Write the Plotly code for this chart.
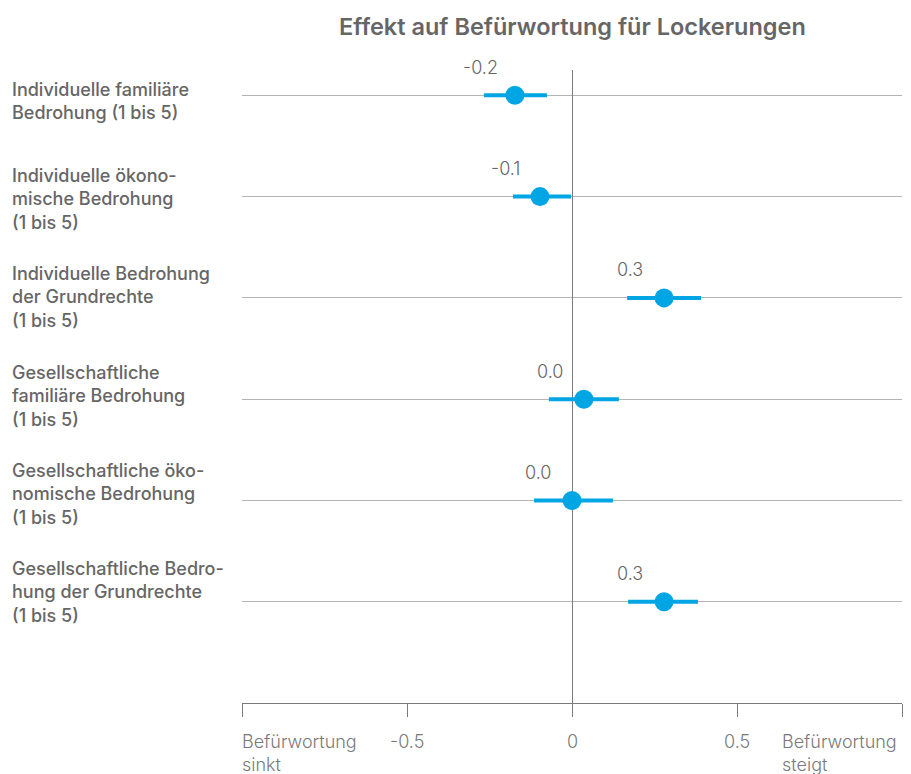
import plotly.graph_objects as go

# ---- data ----
labels = [
    "Individuelle familiäre<br>Bedrohung (1 bis 5)",
    "Individuelle ökono-<br>mische Bedrohung<br>(1 bis 5)",
    "Individuelle Bedrohung<br>der Grundrechte<br>(1 bis 5)",
    "Gesellschaftliche<br>familiäre Bedrohung<br>(1 bis 5)",
    "Gesellschaftliche öko-<br>nomische Bedrohung<br>(1 bis 5)",
    "Gesellschaftliche Bedro-<br>hung der Grundrechte<br>(1 bis 5)",
]
estimates = [-0.173, -0.097, 0.279, 0.036, 0.0, 0.279]
ci_low = [-0.267, -0.179, 0.167, -0.070, -0.115, 0.170]
ci_high = [-0.076, -0.003, 0.391, 0.142, 0.124, 0.382]
tick_vals = [-1, -0.5, 0, 0.5, 1]
tick_text = ["Befürwortung<br>sinkt", "-0.5", "0", "0.5", "Befürwortung<br>steigt"]
title = "Effekt auf Befürwortung für Lockerungen"

# ---- style ----
BLUE = "#00a5e3"
GREY_TXT = "#666666"
GREY_AX = "#7a7a7a"
GREY_GRID = "#b4b4b4"
FONT = "Inter"

W, H = 911, 774
ML, MR, MT, MB = 242, 9, 70, 71
Y_MIN, Y_MAX = -0.25, 6.0
plot_h = H - MT - MB
px_per_row = plot_h / (Y_MAX - Y_MIN)

rows = list(range(len(labels)))

fig = go.Figure()
fig.add_trace(go.Scatter(
    x=estimates, y=rows, mode="markers",
    marker=dict(color=BLUE, size=19, line=dict(width=0)),
    error_x=dict(type="data", symmetric=False,
                 array=[h - e for h, e in zip(ci_high, estimates)],
                 arrayminus=[e - l for e, l in zip(estimates, ci_low)],
                 color=BLUE, thickness=4, width=0),
    hoverinfo="skip", showlegend=False,
))

annotations = []
# value labels
for r, e in zip(rows, estimates):
    annotations.append(dict(
        x=e, y=r, xref="x", yref="y", text=f"{e:.1f}", showarrow=False,
        xanchor="center", yanchor="middle", xshift=-34, yshift=28,
        font=dict(family=FONT, size=18, color=GREY_TXT, weight=300),
    ))

# row labels
for r, lab in zip(rows, labels):
    center_px = 101 + 98.2 * r
    yc = (center_px - MT) / px_per_row + Y_MIN
    annotations.append(dict(
        x=(10 - ML) / (W - ML - MR), y=yc, xref="paper", yref="y",
        text=lab, showarrow=False, xanchor="left", yanchor="middle",
        align="left",
        font=dict(family=FONT, size=18, color=GREY_TXT, weight=500),
    ))

# axis tick labels
for v, t in zip(tick_vals, tick_text):
    if v == tick_vals[0]:
        xa, xs = "left", -2
    elif v == tick_vals[-1]:
        xa, xs = "right", -3
    else:
        xa, xs = "center", 0
    annotations.append(dict(
        x=v, y=0, xref="x", yref="paper", text=t, showarrow=False,
        xanchor=xa, yanchor="top", align="left", xshift=xs,
        yshift=-26,
        font=dict(family=FONT, size=18, color=GREY_AX, weight=300),
    ))

annotations.append(dict(
    x=0.5, y=1, xref="paper", yref="paper", yanchor="middle", yshift=44,
    text=title, showarrow=False,
    font=dict(family=FONT, size=23.5, color=GREY_TXT, weight=600),
))

fig.update_layout(
    width=W, height=H,
    margin=dict(l=ML, r=MR, t=MT, b=MB, pad=0),
    paper_bgcolor="white", plot_bgcolor="white",
    annotations=annotations,
    xaxis=dict(range=[-1, 1], tickvals=tick_vals, ticktext=[""] * len(tick_vals),
               ticks="outside", ticklen=13, tickcolor=GREY_AX, tickwidth=1,
               showline=True, linecolor=GREY_AX, linewidth=1,
               showgrid=False, zeroline=True, zerolinecolor=GREY_AX,
               zerolinewidth=1, fixedrange=True),
    yaxis=dict(range=[Y_MAX, Y_MIN], tickvals=rows, showticklabels=False,
               showgrid=True, gridcolor=GREY_GRID, gridwidth=1,
               zeroline=False, showline=False, fixedrange=True),
)

fig.write_html("out.html", config={"displayModeBar": False},
               post_script="document.body.style.margin='0';")
